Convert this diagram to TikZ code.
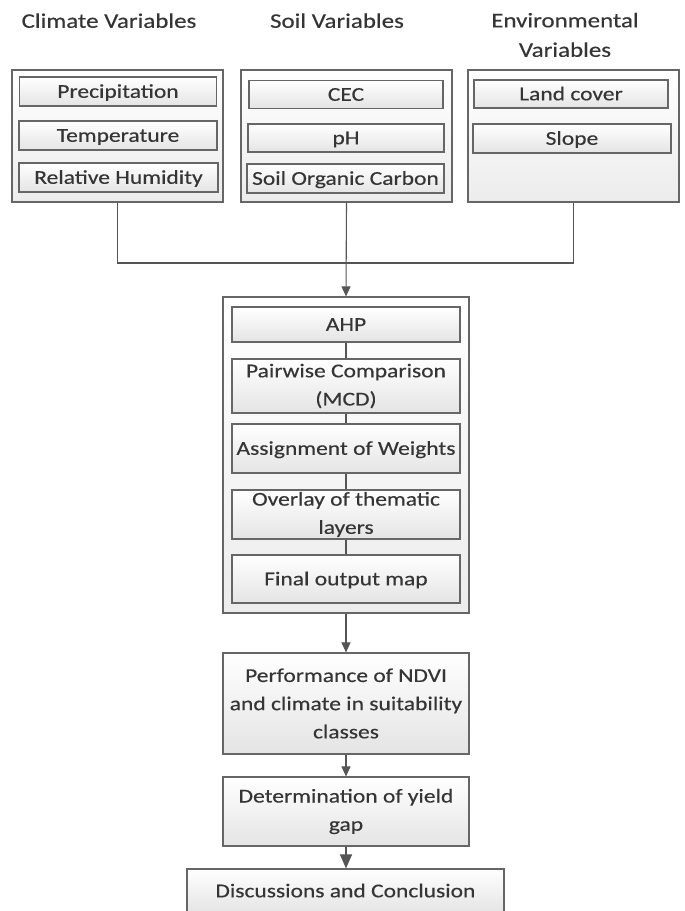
\documentclass[tikz,border=0pt]{standalone}
\usepackage{fontspec}
\setmainfont{Carlito}[FakeStretch=1.2,FakeBold=0.35]
\usetikzlibrary{arrows.meta}
\definecolor{txt}{HTML}{353535}
\definecolor{edge}{HTML}{666666}
\definecolor{wire}{HTML}{555555}
\definecolor{shadebot}{HTML}{E4E4E4}
\definecolor{groupbot}{HTML}{ECECEC}
\begin{document}
\begin{tikzpicture}[x=1pt,y=-1pt,
  boxbase/.style={draw=edge,line width=1.2pt,top color=white,bottom color=shadebot,inner sep=0pt,text=txt,font=\fontsize{19.6}{28.2}\selectfont,align=center},
  group/.style={boxbase,bottom color=groupbot},
  item/.style={boxbase,text height=16pt,text depth=3.4pt},
  multi/.style={boxbase},
  head/.style={text=txt,font=\fontsize{20.8}{29.5}\selectfont,inner sep=0pt,text depth=0pt,anchor=south,align=center},
  wirestyle/.style={draw=wire,line width=1.1pt},
  tip/.style={-{Triangle[length=10pt,width=9pt]}},
  bigtip/.style={-{Triangle[length=14pt,width=12pt]}}
]
\useasboundingbox[fill=white] (0,0) rectangle (685,911);

% headings
\node[head] (hclim) at (109,28) {Climate Variables};
\node[head] (hsoil) at (337,28) {Soil Variables};
\node[head] (henv) at (565,57) {Environmental\\Variables};

% group boxes
\node[group,minimum width=211pt,minimum height=132pt] (g1) at (117.5,136) {};
\node[group,minimum width=211pt,minimum height=132pt] (g2) at (346.5,136) {};
\node[group,minimum width=211pt,minimum height=132pt] (g3) at (573.5,136) {};

% climate items
\node[item,minimum width=197pt,minimum height=29pt] (c1) at (118,91.5) {Precipitation};
\node[item,minimum width=198pt,minimum height=29pt] (c2) at (118,135.5) {Temperature};
\node[item,minimum width=199pt,minimum height=29pt] (c3) at (118.5,177.5) {Relative Humidity};

% soil items
\node[item,minimum width=194pt,minimum height=28pt] (s1) at (346,94.5) {CEC};
\node[item,minimum width=196pt,minimum height=28pt] (s2) at (346,138) {pH};
\node[item,minimum width=197pt,minimum height=29pt] (s3) at (345.5,178.5) {Soil Organic Carbon};

% environmental items
\node[item,minimum width=194pt,minimum height=28pt] (e1) at (571,94) {Land cover};
\node[item,minimum width=198pt,minimum height=29pt] (e2) at (572,138.5) {Slope};

% middle block
\node[group,minimum width=246pt,minimum height=316pt] (mid) at (346,455) {};
\node[item,minimum width=228pt,minimum height=35pt] (ahp) at (346,324.5) {AHP};
\node[multi,minimum width=228pt,minimum height=54pt] (pair) at (346,386) {Pairwise Comparison\\(MCD)};
\node[item,minimum width=228pt,minimum height=49pt] (asg) at (346,448.5) {Assignment of Weights};
\node[multi,minimum width=228pt,minimum height=49pt] (ovl) at (346,514.5) {Overlay of thematic\\layers};
\node[item,minimum width=228pt,minimum height=48pt] (fin) at (346,579) {Final output map};

% lower boxes
\node[multi,minimum width=246pt,minimum height=101pt] (perf) at (346,703.5) {Performance of NDVI\\and climate in suitability\\classes};
\node[multi,minimum width=246pt,minimum height=69pt] (det) at (346,811.5) {Determination of yield\\gap};
\node[item,minimum width=317pt,minimum height=44pt] (disc) at (345.5,891) {Discussions and Conclusion};

% connectors
\coordinate (join) at (346.5,263);
\draw[wirestyle] (g1.south) |- (join) -| (g3.south);
\draw[wirestyle,tip] (g2.south) -- (mid.north);
\draw[wirestyle] (ahp) -- (pair);
\draw[wirestyle] (pair) -- (asg);
\draw[wirestyle] (asg) -- (ovl);
\draw[wirestyle] (ovl) -- (fin);
\draw[wirestyle,tip] (mid) -- (perf);
\draw[wirestyle,tip] (perf) -- (det);
\draw[wirestyle,bigtip] (det.south) -- (det.south |- disc.north);
\end{tikzpicture}
\end{document}
